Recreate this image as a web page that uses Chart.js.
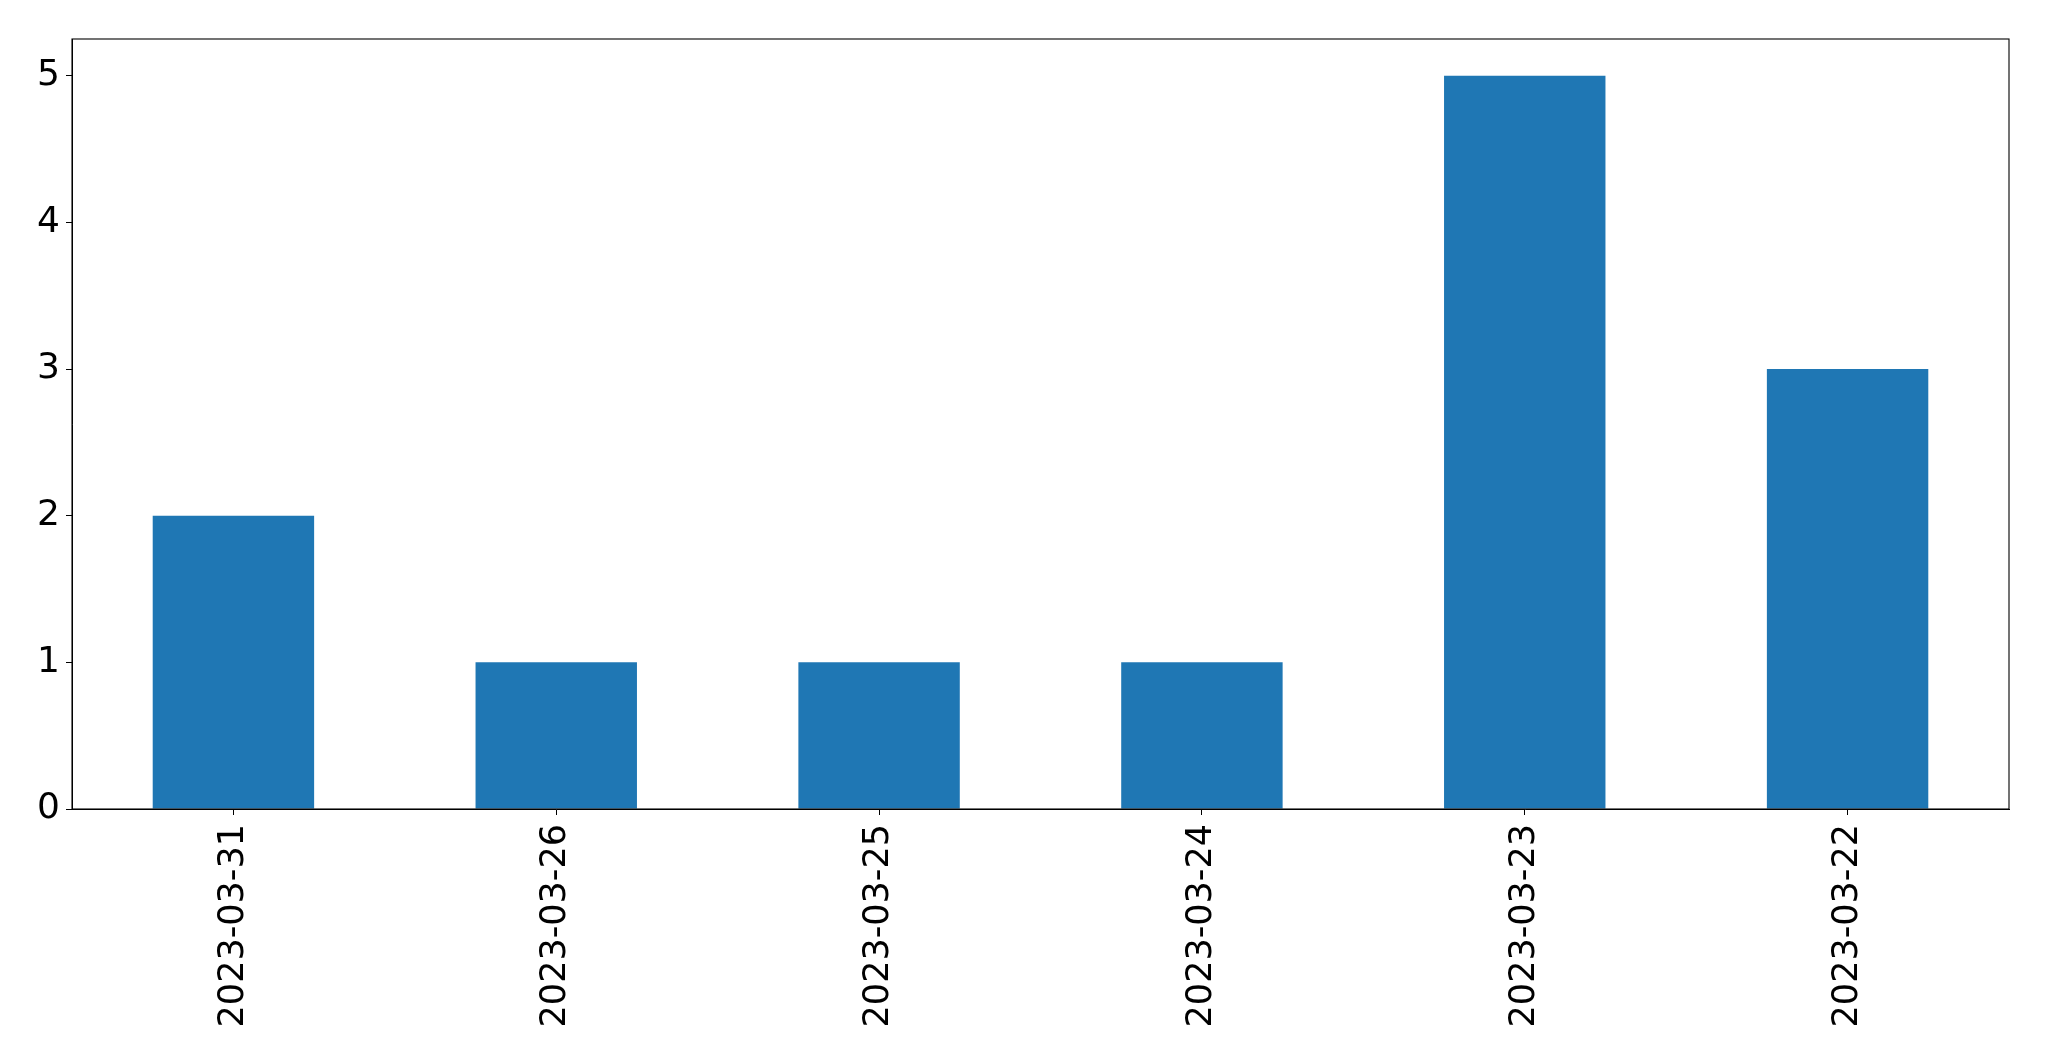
<!DOCTYPE html>
<html>
<head>
<meta charset="utf-8">
<script src="https://cdn.jsdelivr.net/npm/chart.js@4"></script>
<style>
  html, body { margin: 0; padding: 0; background: #fff; }
  #wrap { width: 2049px; height: 1061px; }
</style>
</head>
<body>
<div id="wrap"><canvas id="chart"></canvas></div>
<script>
const categories = ['2023-03-31', '2023-03-26', '2023-03-25', '2023-03-24', '2023-03-23', '2023-03-22'];
const counts = [2, 1, 1, 1, 5, 3];
const yTicks = [0, 1, 2, 3, 4, 5];

// matplotlib-style box round the plot area
const frame = {
    id: 'frame',
    afterDraw(chart) {
        const a = chart.chartArea;
        const c = chart.ctx;
        c.save();
        c.strokeStyle = '#000';
        c.lineWidth = 1.1;
        c.strokeRect(a.left, a.top, a.right - a.left, a.bottom - a.top);
        c.restore();
    }
};

Chart.defaults.font.family = 'DejaVu Sans';
Chart.defaults.color = '#000';

const ctx = document.getElementById('chart');
new Chart(ctx, {
    type: 'bar',
    data: {
        labels: categories,
        datasets: [{
            data: counts,
            backgroundColor: '#1f77b4',
            barPercentage: 0.5,
            categoryPercentage: 1.0
        }]
    },
    options: {
        responsive: true,
        maintainAspectRatio: false,
        animation: false,
        layout: { padding: { top: 39, right: 40, left: 0, bottom: 0 } },
        scales: {
            x: {
                afterFit(scale) { scale.height = 252; },
                grid: { drawOnChartArea: false, drawTicks: true, tickLength: 6, color: '#000', offset: false },
                border: { display: true, color: '#000', width: 1 },
                ticks: { minRotation: 90, maxRotation: 90, padding: 9, font: { size: 35 } }
            },
            y: {
                min: 0,
                max: 5.25,
                afterFit(scale) { scale.width = 72; },
                afterBuildTicks(scale) { scale.ticks = yTicks.map(v => ({ value: v })); },
                grid: { drawOnChartArea: false, drawTicks: true, tickLength: 6, color: '#000' },
                border: { display: true, color: '#000', width: 1 },
                ticks: { padding: 6, font: { size: 36 } }
            }
        },
        plugins: {
            legend: { display: false },
            tooltip: { enabled: false }
        }
    },
    plugins: [frame]
});
</script>
</body>
</html>
